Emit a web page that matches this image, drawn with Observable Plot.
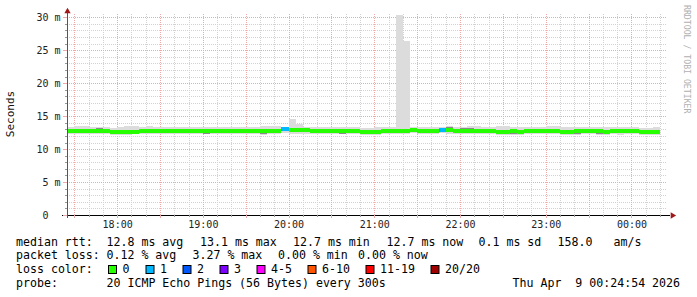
<!DOCTYPE html>
<html><head><meta charset="utf-8">
<script src="https://cdn.jsdelivr.net/npm/d3@7"></script>
<script src="https://cdn.jsdelivr.net/npm/@observablehq/plot@0.6"></script>
<style>
html,body{margin:0;padding:0;background:#fff;}
svg{display:block;}
svg text{white-space:pre;}
</style></head><body><div id="chart"></div>
<script>
// ---- data (5‑minute steps starting 17:25) ----
const firstStep = "2026-04-08T17:25:00Z";
const stepSeconds = 300;
const medianRtt = [12.8,12.85,12.85,12.8,12.8,12.8, 12.7,12.7,12.7,12.7, 12.8,12.85,12.8,12.8,12.85,
  12.85,12.8,12.8,12.75,12.75,12.8, 12.75,12.75,12.8,12.8,12.8,12.85,12.8,12.8,12.85, 13.1,
  13.0,12.95,12.9, 12.85,12.85,12.85,12.85,12.8, 12.75,12.75, 12.7,12.7,12.7, 12.8,12.8,
  12.85,12.85,12.9,12.85,12.85, 12.85,12.9,12.9,12.85, 12.8,12.8,12.8,12.8, 12.85,
  12.7,12.7,12.75,12.7, 12.85,12.85,12.85, 12.8,12.8, 12.7,12.7,12.75, 12.8,12.8,
  12.75,12.7,12.75,12.75, 12.8,12.75, 12.7,12.7,12.7];
const smokeHi = [13.3,13.5,13.5,13.3,13.3,13.3, 13.2,13.3,13.5,13.5, 13.3,13.5,13.3,13.3,13.3,
  13.3,13.3,13.4,13.4,13.3,13.3, 13.4,13.4,13.3,13.4,13.4,13.3,13.5,13.5,13.5, 13.4,
  14.5,13.8,13.3, 13.3,13.3,13.4,13.4,13.3, 13.3,13.4, 13.2,13.2,13.3, 13.3,13.4,
  30.3,26.4,13.4,13.3,13.4, 13.3,13.4,13.5,13.4, 13.4,13.5,13.5,13.4, 13.3,
  13.5,13.5,13.4,13.4, 13.4,13.3,13.4, 13.5,13.5, 13.4,13.3,13.3, 13.4,13.4,
  13.3,13.3,13.4,13.3, 13.3,13.3, 13.2,13.2,13.3];
const smokeLo = [12.3,12.3,12.3,12.3,12.25,12.3, 12.2,12.2,12.2,12.25, 12.3,12.3,12.3,12.3,12.3,
  12.3,12.3,12.3,12.25,12.25,12.3, 12.25,12.25,12.3,12.3,12.3,12.3,12.2,12.25,12.3, 12.4,
  12.35,12.35,12.35, 12.35,12.35,12.35,12.3,12.25, 12.25,12.25, 12.2,12.15,12.2, 12.3,12.3,
  12.35,12.35,12.4,12.35,12.35, 12.35,12.4,12.35,12.35, 12.3,12.25,12.25,12.3, 12.3,
  12.2,12.15,12.2,12.2, 12.3,12.3,12.3, 12.3,12.3, 12.2,12.2,12.15, 12.3,12.3,
  12.2,12.2,12.25,12.2, 12.3,12.25, 12.15,12.2,12.2];
const lossCount = [0,0,0,0,0,0,0,0,0,0, 0,0,0,0,0,0,0,0,0,0, 0,0,0,0,0,0,0,0,0,0,
  1,0,0,0,0,0,0,0,0,0, 0,0,0,0,0,0,0,0,0,0, 0,0,1,0,0,0,0,0,0,0,
  0,0,0,0,0,0,0,0,0,0, 0,0,0,0,0,0,0,0,0,0, 0,0,0];
// darker smoke visible next to the median line on a few steps
const darkStep = [4, 19, 26, 27, 38, 42, 53, 55, 56, 61, 62, 71, 74, 80];
const darkLo   = [12.8,12.3,12.4,12.35,12.35,12.25,12.9,12.8,12.8,12.25,12.3,12.3,12.3,12.25];
const darkHi   = [13.25,12.75,12.85,12.8,12.8,12.7,13.35,13.25,13.25,12.7,12.75,12.75,12.75,12.7];

const yTicks = [0,5,10,15,20,25,30];
const yTickLabels = ["0\u00a0\u00a0","5 m","10 m","15 m","20 m","25 m","30 m"];
const xTickLabels = ["18:00","19:00","20:00","21:00","22:00","23:00","00:00"];
const lossNames  = ["0","1","2","3","4-5","6-10","11-19","20/20"];
const lossColors = ["#26ff00","#00b8ff","#0059ff","#7e00ff","#ff00ff","#ff5500","#ff0000","#a10000"];
const lossThresholds = [0,1,2,3,4,6,11,20];
const rttLine   = ["median rtt:","12.8 ms avg","13.1 ms max","12.7 ms min","12.7 ms now","0.1 ms sd","158.0","am/s"];
const lossLine  = ["packet loss:","0.12 % avg","3.27 % max","0.00 % min","0.00 % now"];
const probeLine = ["probe:","20 ICMP Echo Pings (56 Bytes) every 300s","Thu Apr  9 00:24:54 2026"];
const yTitle = "Seconds";
const credit = "RRDTOOL / TOBI OETIKER";
const domainStart = new Date("2026-04-08T17:24:54Z");
const domainEnd   = new Date("2026-04-09T00:24:54Z");

// ---- build table ----
const t0 = new Date(firstStep);
const colorFor = n => { let c = lossColors[0]; lossThresholds.forEach((th,k)=>{ if (n >= th) c = lossColors[k]; }); return c; };
const steps = medianRtt.map((m,i)=>({
  x1: new Date(+t0 + i*stepSeconds*1000), x2: new Date(+t0 + (i+1)*stepSeconds*1000),
  median: m, lo: smokeLo[i], hi: smokeHi[i], color: colorFor(lossCount[i])
}));
const dark = darkStep.map((i,k)=>({x1: steps[i].x1, x2: steps[i].x2, lo: darkLo[k], hi: darkHi[k]}));

const minor10 = d3.utcMinute.every(10).range(domainStart, domainEnd).filter(d => d.getUTCMinutes() % 30 !== 0);
const major30 = d3.utcMinute.every(30).range(domainStart, domainEnd);
const hours = d3.utcHour.range(domainStart, domainEnd);
const yMinor = d3.range(1, 31).filter(v => v % 5 !== 0);
const yMajor = yTicks.filter(v => v > 0);
const font = "DejaVu Sans Mono";
const minorGrid = "#d2d2d2", majorGrid = "#eeaaaa";

const chart = Plot.plot({
  width: 697, height: 297,
  marginLeft: 67, marginRight: 30, marginTop: 14, marginBottom: 82,
  x: {type: "utc", domain: [domainStart, domainEnd], axis: null},
  y: {domain: [0, 30.5], axis: null},
  style: {background: "#fff", fontFamily: font},
  marks: [
    Plot.ruleY(yMinor, {stroke: minorGrid, strokeDasharray: "1,1", shapeRendering: "crispEdges"}),
    Plot.ruleX(minor10, {stroke: minorGrid, strokeDasharray: "1,1", shapeRendering: "crispEdges"}),
    Plot.ruleY(yMajor, {stroke: majorGrid, strokeDasharray: "1,1", shapeRendering: "crispEdges"}),
    Plot.ruleX(major30, {stroke: majorGrid, strokeDasharray: "1,1", shapeRendering: "crispEdges"}),
    Plot.rect(steps, {x1: "x1", x2: "x2", y1: "lo", y2: "hi", fill: "#dcdcdc", shapeRendering: "crispEdges"}),
    Plot.rect(dark, {x1: "x1", x2: "x2", y1: "lo", y2: "hi", fill: "#8a8a8a", shapeRendering: "crispEdges"}),
    Plot.ruleY(steps, {x1: "x1", x2: "x2", y: "median", stroke: "color", strokeWidth: 4, shapeRendering: "crispEdges"}),
    // axes
    Plot.ruleY([0], {stroke: "#000", insetLeft: -5, insetRight: -3, shapeRendering: "crispEdges"}),
    Plot.ruleX([domainStart], {stroke: "#555", insetTop: -4, insetBottom: -3, shapeRendering: "crispEdges"}),
    Plot.dot([domainStart], {x: d => d, y: () => 30.5, dy: -3, symbol: "triangle2", r: 3, fill: "#a01818", stroke: "none"}),
    Plot.dot([domainEnd], {x: d => d, y: () => 0, dx: 5, symbol: "triangle2", rotate: 90, r: 3, fill: "#a01818", stroke: "none"}),
    Plot.text(yTicks, {x: () => domainStart, y: d => d, text: (d,i) => yTickLabels[i], dx: -7, textAnchor: "end", fontSize: 10, fill: "#222"}),
    Plot.text(hours, {x: d => d, y: () => 0, text: (d,i) => xTickLabels[i], dy: 9.5, fontSize: 10, fill: "#222"})
  ]
});
document.getElementById("chart").append(chart);
const svg = d3.select(chart);
const sx = chart.scale("x"), sy = chart.scale("y");
// small axis ticks
const tickG = svg.append("g").attr("stroke", "#000").attr("shape-rendering", "crispEdges");
minor10.forEach(d => { const x = Math.round(sx.apply(d)) + 0.5; tickG.append("line").attr("x1", x).attr("x2", x).attr("y1", 215).attr("y2", 217).attr("stroke", "#999"); });
major30.forEach(d => { const x = Math.round(sx.apply(d)) + 0.5; tickG.append("line").attr("x1", x).attr("x2", x).attr("y1", 215).attr("y2", 218).attr("stroke", majorGrid); });
yMinor.forEach(v => { const y = Math.round(sy.apply(v)) + 0.5; tickG.append("line").attr("x1", 65).attr("x2", 67).attr("y1", y).attr("y2", y).attr("stroke", "#999"); });
yTicks.forEach(v => { const y = Math.round(sy.apply(v)) + 0.5; tickG.append("line").attr("x1", 63).attr("x2", 67).attr("y1", y).attr("y2", y).attr("stroke", majorGrid); });

const txt = (x, y, s, size = 11.6, fill = "#000") => svg.append("text").attr("x", x).attr("y", y)
  .attr("text-anchor", "start").attr("font-family", font).attr("font-size", size).attr("fill", fill).text(s);
// y title and credit
svg.append("text").attr("transform", "translate(14,114) rotate(-90)").attr("text-anchor", "middle")
  .attr("font-family", font).attr("font-size", 11).attr("fill", "#111").text(yTitle);
svg.append("text").attr("transform", "translate(684,5) rotate(90)").attr("text-anchor", "start")
  .attr("font-family", font).attr("font-size", 8.2).attr("fill", "#b0b0b0").text(credit);
// legend lines
const rttX = [16, 106.5, 200, 293, 386.5, 478.5, 557.5, 613.5];
rttLine.forEach((s,i) => txt(rttX[i], 245.5, s));
const lossX = [16, 106.5, 192.5, 278, 358];
lossLine.forEach((s,i) => txt(lossX[i], 259, s));
txt(16, 273, "loss color:");
const boxX = [108, 145.5, 182.5, 219.5, 256.5, 307.5, 365.5, 430.5];
lossNames.forEach((s,i) => {
  svg.append("rect").attr("x", boxX[i] + 0.5).attr("y", 265.5).attr("width", 8).attr("height", 8)
    .attr("fill", lossColors[i]).attr("stroke", "#000").attr("stroke-width", 1);
  txt(boxX[i] + 14.5, 273, s);
});
const probeX = [16, 106.5, 512.5];
probeLine.forEach((s,i) => txt(probeX[i], 286.5, s));
</script></body></html>
